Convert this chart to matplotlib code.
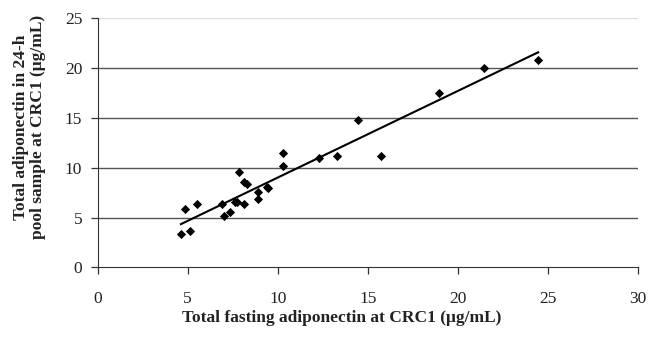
import numpy as np
import matplotlib
matplotlib.use('Agg')
import matplotlib.pyplot as plt

# values
fasting = [4.63, 4.85, 5.13, 5.52, 6.93, 7.04, 7.34, 7.63, 7.74, 7.87, 8.13, 8.30,
           8.15, 8.93, 8.93, 9.41, 9.47, 10.32, 10.32, 12.31, 13.27, 14.46, 15.72,
           18.97, 21.47, 24.46]
pool = [3.38, 5.88, 3.65, 6.32, 6.32, 5.12, 5.55, 6.58, 6.52, 9.55, 8.58, 8.38,
        6.32, 7.58, 6.82, 8.08, 7.92, 11.48, 10.12, 10.95, 11.12, 14.72, 11.12,
        17.45, 19.98, 20.75]
x_ticks = [0, 5, 10, 15, 20, 25, 30]
y_ticks = [0, 5, 10, 15, 20, 25]

plt.rcParams['font.family'] = ['Liberation Serif', 'DejaVu Serif']

fig = plt.figure(figsize=(6.5, 3.44), dpi=100)
ax = fig.add_axes([0.15, 0.2224, 0.8315, 0.7262])

# linear trend line over the data range
slope, intercept = np.polyfit(fasting, pool, 1)
xl = np.array([min(fasting), max(fasting)])
ax.plot(xl, slope * xl + intercept, color='black', lw=1.5, zorder=3)

ax.scatter(fasting, pool, marker='D', s=22, color='black', zorder=4, linewidths=0)

ax.set_xlim(0, 30)
ax.set_ylim(0, 25)
ax.set_xticks(x_ticks)
ax.set_yticks(y_ticks)
for t in y_ticks[1:-1]:
    ax.axhline(t, color='#555555', lw=1.0, zorder=1)
ax.axhline(25, color='#dddddd', lw=1.0, zorder=1)

for s in ['top', 'right']:
    ax.spines[s].set_visible(False)
ax.spines['left'].set_color('#333333')
ax.spines['bottom'].set_color('#333333')
ax.tick_params(axis='both', direction='out', length=5, width=0.9, colors='#333333',
               labelsize=12.5, labelcolor='#222222')
ax.tick_params(axis='x', pad=12)
ax.tick_params(axis='y', pad=6)

ax.set_xlabel('Total fasting adiponectin at CRC1 (\u03bcg/mL)', fontsize=12.5,
              fontweight='bold', color='#222222')
ax.set_ylabel('Total adiponectin in 24-h\npool sample at CRC1 (\u03bcg/mL)', fontsize=12.5,
              fontweight='bold', color='#222222', linespacing=1.1)
ax.xaxis.set_label_coords(0.452, -0.17)
ax.yaxis.set_label_coords(-0.095, 0.5625)

fig.savefig('out.png', dpi=100)
